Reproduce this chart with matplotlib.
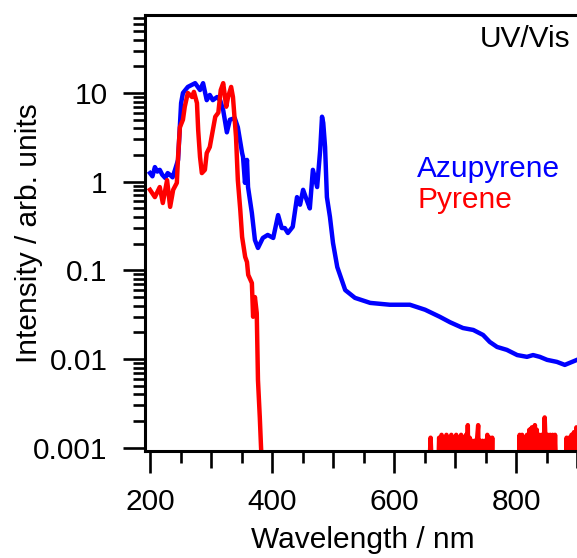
import numpy as np
import matplotlib
matplotlib.use("Agg")
import matplotlib.pyplot as plt
from matplotlib.ticker import LogLocator, FixedLocator, FuncFormatter, NullFormatter

# Azupyrene spectrum (wavelength nm, intensity)
azu_nm = [200, 204, 208, 212, 216, 220, 225, 229, 233, 237, 241, 246, 251, 254,
          262, 274, 282, 287, 293, 298, 303, 310, 315, 320, 326, 331, 339, 344,
          351, 352.5, 355.7, 359, 360.7, 367, 372, 377, 385, 393, 402, 410,
          416, 421, 426, 434, 441, 446, 451, 457, 462, 467, 474, 479, 482, 484,
          487, 490, 495, 500, 507, 520, 536, 561, 593, 626, 651, 675, 692, 713,
          730, 746, 757, 769, 785, 802, 818, 828, 839, 851, 867, 880, 892, 900]
azu_val = [1.25, 1.15, 1.46, 1.30, 1.36, 1.20, 1.10, 1.25, 1.19, 1.12, 1.36, 1.76,
           7.7, 10.0, 11.7, 12.9, 10.8, 12.9, 8.3, 9.5, 8.3, 9.0, 8.3, 6.4, 3.6,
           5.0, 5.2, 4.1, 2.1, 1.9, 0.97, 1.76, 0.87, 0.444, 0.22, 0.179, 0.232,
           0.251, 0.232, 0.42, 0.30, 0.30, 0.264, 0.31, 0.67, 0.55, 0.81, 0.62,
           0.50, 1.36, 0.87, 2.28, 5.4, 4.6, 2.46, 0.67, 0.40, 0.204, 0.109,
           0.060, 0.049, 0.043, 0.041, 0.041, 0.036, 0.030, 0.026, 0.0224,
           0.0213, 0.0187, 0.0156, 0.0137, 0.0127, 0.0111, 0.0106, 0.0111,
           0.0106, 0.0098, 0.0093, 0.0086, 0.0093, 0.0098]

# Pyrene spectrum
pyr_nm = [200, 208, 216, 221, 228, 233, 238, 244, 246, 249, 254, 257, 262, 269,
          272, 277, 279, 282, 285, 290, 293, 298, 303, 307, 312, 316, 320, 325,
          328, 333, 336, 341, 344, 348, 351, 356, 359, 361, 367, 369, 372, 375,
          377, 380, 382, 385]
pyr_val = [0.81, 0.67, 0.87, 0.575, 1.04, 0.52, 0.81, 0.97, 1.9, 4.1, 5.0, 7.0,
           10.0, 9.0, 10.3, 7.7, 3.8, 1.9, 1.25, 1.36, 2.1, 2.46, 3.8, 5.4, 6.0,
           10.8, 12.9, 7.0, 9.0, 11.7, 9.0, 3.2, 1.04, 0.48, 0.238, 0.142, 0.124,
           0.089, 0.072, 0.030, 0.050, 0.033, 0.0058, 0.0022, 0.00102, 0.0004]

# Pyrene noise floor in the visible (mostly below 0.001)
pyr_tail_nm = [655, 657, 660, 663,
               672, 674, 676, 678, 680, 682, 684, 686, 688, 690, 692, 694, 696,
               698, 700, 702, 704, 706, 708, 710, 712, 714, 716, 718, 720, 721,
               722, 724, 726, 728, 730, 732, 734, 736, 738, 739, 741, 743, 745,
               747, 749, 751, 753, 755, 757, 759, 761, 763,
               804, 806, 808, 810, 812, 814, 816, 818, 820, 822, 824, 826, 828,
               830, 831, 832, 834, 836, 838, 840, 842, 844, 846, 847, 848, 850,
               852, 854, 856, 858, 860, 862, 864, 866, 868,
               881, 883, 885, 887, 889, 891, 893, 895, 897, 899, 900]
pyr_tail_val = [0.0004, 0.0004, 0.0013, 0.0004,
                0.0004, 0.0013, 0.0005, 0.0014, 0.0005, 0.0013, 0.0005, 0.0014,
                0.0005, 0.0013, 0.0005, 0.0014, 0.0005, 0.0013, 0.0005, 0.0014,
                0.0005, 0.0013, 0.0005, 0.0014, 0.0005, 0.0013, 0.0005, 0.0014,
                0.0005, 0.0018, 0.0005, 0.0013, 0.0005, 0.0012, 0.0005, 0.0012,
                0.0005, 0.0012, 0.0018, 0.0005, 0.0012, 0.0005, 0.0012, 0.0005,
                0.0012, 0.0005, 0.0014, 0.0005, 0.0013, 0.0005, 0.0013, 0.0004,
                0.0004, 0.0014, 0.0005, 0.0014, 0.0005, 0.0013, 0.0005, 0.0014,
                0.0005, 0.0016, 0.0005, 0.0017, 0.0005, 0.0016, 0.0018, 0.0005,
                0.0016, 0.0005, 0.0014, 0.0005, 0.0014, 0.0005, 0.0014, 0.0022,
                0.0014, 0.0005, 0.0014, 0.0005, 0.0014, 0.0005, 0.0014, 0.0005,
                0.0014, 0.0005, 0.0004,
                0.0004, 0.0013, 0.0005, 0.0013, 0.0005, 0.0014, 0.0005, 0.0015,
                0.0005, 0.0017, 0.0016]

pyr_nm_all = pyr_nm + pyr_tail_nm
pyr_val_all = pyr_val + pyr_tail_val

y_ticks = [0.001, 0.01, 0.1, 1, 10]
y_labels = ["0.001", "0.01", "0.1", "1", "10"]

plt.rcParams['font.family'] = ['Liberation Sans', 'DejaVu Sans']
fs = 21.5

fig = plt.figure(figsize=(5.77, 5.58), dpi=100)
ax = fig.add_axes([145 / 577, 107 / 558, 432 / 577, 436 / 558])

ax.plot(azu_nm, azu_val, color='#0000ff', lw=3.2, solid_joinstyle='round')
ax.plot(pyr_nm_all, pyr_val_all, color='#ff0000', lw=3.2, solid_joinstyle='round')

ax.set_yscale('log')
ax.set_xlim(191.8, 900)
ax.set_ylim(0.00092, 75.7)

# spines
for s in ['left', 'bottom', 'top']:
    ax.spines[s].set_linewidth(2.2)
ax.spines['right'].set_visible(False)

# y ticks
ax.yaxis.set_major_locator(FixedLocator(y_ticks))
ax.yaxis.set_major_formatter(FuncFormatter(lambda v, p: y_labels[y_ticks.index(v)] if v in y_ticks else ""))
ax.yaxis.set_minor_locator(LogLocator(base=10, subs=np.arange(2, 10), numticks=20))
ax.yaxis.set_minor_formatter(NullFormatter())

# x ticks
ax.xaxis.set_major_locator(FixedLocator([200, 400, 600, 800]))
ax.xaxis.set_minor_locator(FixedLocator([250, 350, 450, 550, 650, 750, 850]))

ax.tick_params(which='major', direction='out', length=16, width=1.9,
               labelsize=fs, top=False, right=False)
ax.tick_params(axis='y', which='major', pad=11)
ax.tick_params(axis='x', which='major', pad=11)
ax.tick_params(which='minor', direction='out', length=8.7, width=1.9,
               top=False, right=False)

# medium ticks every 100 nm
sec = ax.secondary_xaxis('bottom')
sec.set_xticks([300, 500, 700, 900])
sec.tick_params(direction='out', length=12.3, width=1.9, labelbottom=False)
sec.spines['bottom'].set_visible(False)

ax.set_xlabel('Wavelength / nm', fontsize=fs)
ax.set_ylabel('Intensity / arb. units', fontsize=fs)
ax.xaxis.set_label_coords((363 - 145) / 432, -0.173)
ax.yaxis.set_label_coords(-0.236, 0.5)

ax.text(0.984, 0.927, 'UV/Vis', transform=ax.transAxes, fontsize=fs,
        ha='right', va='baseline')
ax.text(0.630, 0.628, 'Azupyrene', transform=ax.transAxes, fontsize=fs,
        ha='left', va='baseline', color='#0000ff')
ax.text(0.630, 0.557, 'Pyrene', transform=ax.transAxes, fontsize=fs,
        ha='left', va='baseline', color='#ff0000')

fig.savefig('out.png', dpi=100)
